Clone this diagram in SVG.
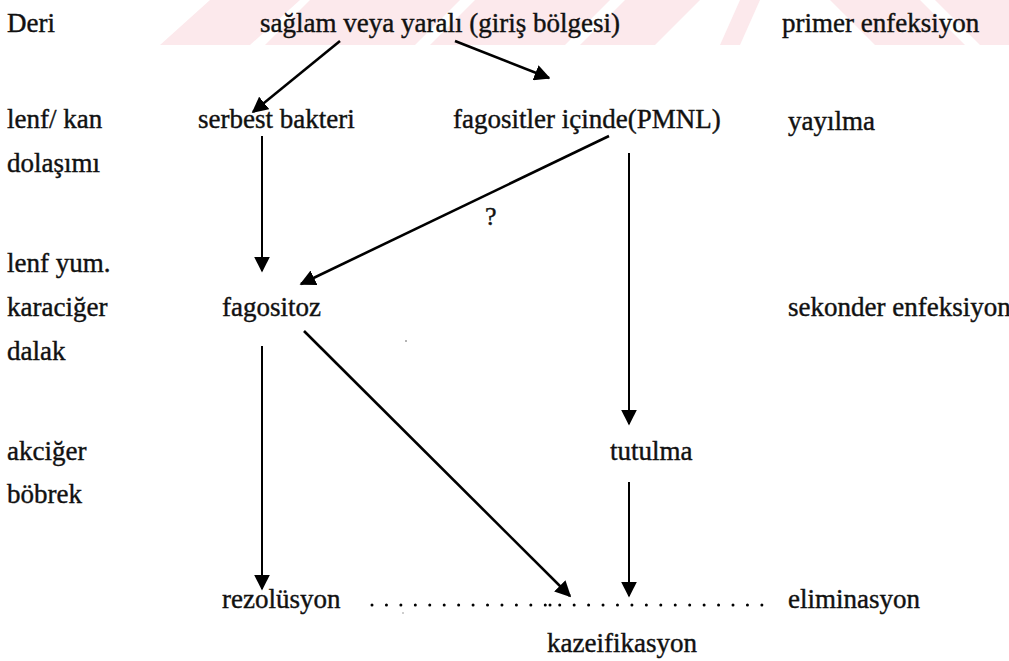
<svg xmlns="http://www.w3.org/2000/svg" width="1009" height="661" viewBox="0 0 1009 661">
<style>
text{font-family:"Liberation Serif","DejaVu Serif","Times New Roman",Times,serif;font-size:27px;fill:#111;stroke:#111;stroke-width:0.4}
.q{font-size:26px}
.wm{fill:#fce9ec}
.ln{stroke:#000;stroke-width:2.6;fill:none}
.lv{stroke:#000;stroke-width:2;fill:none}
.dots{stroke:#000;stroke-width:3;stroke-linecap:round;stroke-dasharray:0 14.44;fill:none}
</style>
<defs>
<marker id="ah" viewBox="0 0 10 10" refX="9" refY="5" markerWidth="16" markerHeight="16" markerUnits="userSpaceOnUse" orient="auto">
<path d="M0,0 L10,5 L0,10 z" fill="#000"/>
</marker>
</defs>
<rect width="1009" height="661" fill="#fff"/>
<g id="watermark">
<polygon class="wm" points="160,45 210,0 300,0 250,45"/>
<polygon class="wm" points="265,45 310,0 460,0 415,45"/>
<polygon class="wm" points="430,45 475,0 610,0 565,45"/>
<polygon class="wm" points="580,45 625,0 700,0 655,45"/>
<polygon class="wm" points="720,45 740,0 760,0 740,45"/>
<polygon class="wm" points="830,0 920,0 965,45 875,45"/>
<polygon class="wm" points="935,0 1009,0 1009,45 980,45"/>
</g>
<g id="labels-left">
<text x="7" y="32">Deri</text>
<text x="7" y="128">lenf/ kan</text>
<text x="7" y="172">dolaşımı</text>
<text x="7" y="272">lenf yum.</text>
<text x="7" y="316">karaciğer</text>
<text x="7" y="360">dalak</text>
<text x="7" y="460">akciğer</text>
<text x="7" y="503">böbrek</text>
</g>
<g id="labels-right">
<text x="782" y="32">primer enfeksiyon</text>
<text x="788" y="130">yayılma</text>
<text x="788" y="316">sekonder enfeksiyon</text>
</g>
<g id="n-giris"><text x="260" y="32">sağlam veya yaralı (giriş bölgesi)</text></g>
<g id="n-serbest"><text x="198" y="128">serbest bakteri</text></g>
<g id="n-fagositler"><text x="453" y="128">fagositler içinde(PMNL)</text></g>
<g id="n-fagositoz"><text x="222" y="316">fagositoz</text></g>
<g id="n-tutulma"><text x="610" y="460">tutulma</text></g>
<g id="n-rezolusyon"><text x="222" y="608">rezolüsyon</text></g>
<g id="n-eliminasyon"><text x="788" y="608">eliminasyon</text></g>
<g id="n-kazeifikasyon"><text x="547" y="652">kazeifikasyon</text></g>
<g id="connectors">
<line class="ln" x1="340" y1="41" x2="253" y2="112" marker-end="url(#ah)"/>
<line class="ln" x1="455" y1="41" x2="549" y2="78" marker-end="url(#ah)"/>
<line class="lv" x1="262" y1="136" x2="262" y2="271" marker-end="url(#ah)"/>
<line class="ln" x1="609" y1="136" x2="301" y2="284" marker-end="url(#ah)"/>
<line class="lv" x1="629" y1="153" x2="629" y2="424" marker-end="url(#ah)"/>
<line class="lv" x1="262" y1="346" x2="262" y2="589" marker-end="url(#ah)"/>
<line class="ln" x1="304" y1="331" x2="570" y2="596" marker-end="url(#ah)"/>
<line class="lv" x1="629" y1="482" x2="629" y2="596" marker-end="url(#ah)"/>
<line class="dots" x1="372" y1="605" x2="763" y2="605"/>
<circle cx="550" cy="605" r="1.5" fill="#000"/>
<text class="q" x="485" y="225">?</text>
<circle cx="406" cy="341" r="0.8" fill="#555"/>
<circle cx="403" cy="613" r="0.7" fill="#777"/>
</g>
</svg>
